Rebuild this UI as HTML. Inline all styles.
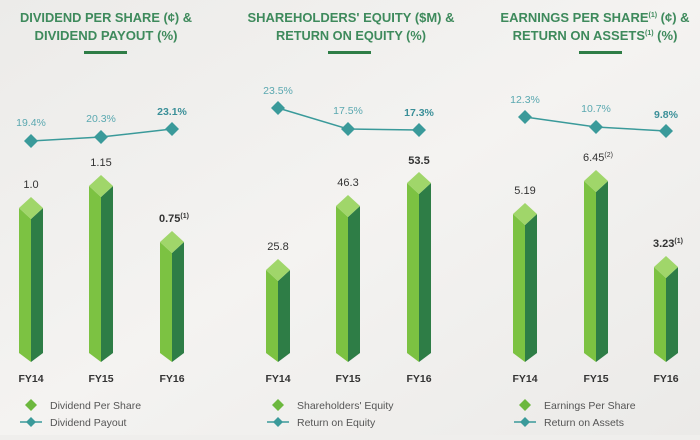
<!DOCTYPE html>
<html><head><meta charset="utf-8"><style>
html,body{margin:0;padding:0;}
body{width:700px;height:435px;overflow:hidden;background:#efeeec;font-family:"Liberation Sans",sans-serif;}
</style></head><body>
<svg width="700" height="435" viewBox="0 0 700 435" xmlns="http://www.w3.org/2000/svg">
<defs>
<linearGradient id="bg" x1="0" y1="0" x2="1" y2="1"><stop offset="0" stop-color="#ecebe9"/><stop offset="0.5" stop-color="#f4f3f1"/><stop offset="1" stop-color="#ebeae8"/></linearGradient>
</defs>
<rect width="700" height="435" fill="url(#bg)"/>
<g font-family="Liberation Sans, sans-serif" font-weight="bold" fill="#3e8a5c" font-size="13" text-anchor="middle">
<text x="106" y="22" textLength="172" lengthAdjust="spacingAndGlyphs">DIVIDEND PER SHARE (¢) &amp;</text>
<text x="106" y="40" textLength="143" lengthAdjust="spacingAndGlyphs">DIVIDEND PAYOUT (%)</text>
<text x="351" y="22" textLength="207" lengthAdjust="spacingAndGlyphs">SHAREHOLDERS' EQUITY ($M) &amp;</text>
<text x="351" y="40" textLength="150" lengthAdjust="spacingAndGlyphs">RETURN ON EQUITY (%)</text>
<text x="595" y="22">EARNINGS PER SHARE<tspan font-size="7" dy="-5">(1)</tspan><tspan dy="5"> (¢) &amp;</tspan></text>
<text x="595" y="40">RETURN ON ASSETS<tspan font-size="7" dy="-5">(1)</tspan><tspan dy="5"> (%)</tspan></text>
</g>
<g fill="#2e7d46"><rect x="84" y="51" width="43" height="3"/><rect x="328" y="51" width="43" height="3"/><rect x="579" y="51" width="43" height="3"/></g>

<g stroke="#3a9a9a" stroke-width="1.5" fill="none">
<polyline points="31,141 101,137 172,129"/>
<polyline points="278,108 348,129 419,130"/>
<polyline points="525,117 596,127 666,131"/>
</g>
<g fill="#3a9a9a">
<path d="M31,134 l7,7 l-7,7 l-7,-7z"/><path d="M101,130 l7,7 l-7,7 l-7,-7z"/><path d="M172,122 l7,7 l-7,7 l-7,-7z"/>
<path d="M278,101 l7,7 l-7,7 l-7,-7z"/><path d="M348,122 l7,7 l-7,7 l-7,-7z"/><path d="M419,123 l7,7 l-7,7 l-7,-7z"/>
<path d="M525,110 l7,7 l-7,7 l-7,-7z"/><path d="M596,120 l7,7 l-7,7 l-7,-7z"/><path d="M666,124 l7,7 l-7,7 l-7,-7z"/>
</g>
<g font-size="10.5" fill="#5aa8b0" text-anchor="middle">
<text x="31" y="126">19.4%</text><text x="101" y="122">20.3%</text><text x="172" y="115" font-weight="bold" fill="#3a8f98">23.1%</text>
<text x="278" y="94">23.5%</text><text x="348" y="114">17.5%</text><text x="419" y="116" font-weight="bold" fill="#3a8f98">17.3%</text>
<text x="525" y="103">12.3%</text><text x="596" y="112">10.7%</text><text x="666" y="118" font-weight="bold" fill="#3a8f98">9.8%</text>
</g>

<g>
<g transform="translate(31,0)"><polygon fill="#7cc242" points="-12,208 0,219 0,362 -12,353"/><polygon fill="#2e7d46" points="0,219 12,208 12,353 0,362"/><polygon fill="#a0d66a" points="0,197 12,208 0,219 -12,208"/></g>
<g transform="translate(101,0)"><polygon fill="#7cc242" points="-12,186 0,197 0,362 -12,353"/><polygon fill="#2e7d46" points="0,197 12,186 12,353 0,362"/><polygon fill="#a0d66a" points="0,175 12,186 0,197 -12,186"/></g>
<g transform="translate(172,0)"><polygon fill="#7cc242" points="-12,242 0,253 0,362 -12,353"/><polygon fill="#2e7d46" points="0,253 12,242 12,353 0,362"/><polygon fill="#a0d66a" points="0,231 12,242 0,253 -12,242"/></g>
<g transform="translate(278,0)"><polygon fill="#7cc242" points="-12,270 0,281 0,362 -12,353"/><polygon fill="#2e7d46" points="0,281 12,270 12,353 0,362"/><polygon fill="#a0d66a" points="0,259 12,270 0,281 -12,270"/></g>
<g transform="translate(348,0)"><polygon fill="#7cc242" points="-12,206 0,217 0,362 -12,353"/><polygon fill="#2e7d46" points="0,217 12,206 12,353 0,362"/><polygon fill="#a0d66a" points="0,195 12,206 0,217 -12,206"/></g>
<g transform="translate(419,0)"><polygon fill="#7cc242" points="-12,183 0,194 0,362 -12,353"/><polygon fill="#2e7d46" points="0,194 12,183 12,353 0,362"/><polygon fill="#a0d66a" points="0,172 12,183 0,194 -12,183"/></g>
<g transform="translate(525,0)"><polygon fill="#7cc242" points="-12,214 0,225 0,362 -12,353"/><polygon fill="#2e7d46" points="0,225 12,214 12,353 0,362"/><polygon fill="#a0d66a" points="0,203 12,214 0,225 -12,214"/></g>
<g transform="translate(596,0)"><polygon fill="#7cc242" points="-12,181 0,192 0,362 -12,353"/><polygon fill="#2e7d46" points="0,192 12,181 12,353 0,362"/><polygon fill="#a0d66a" points="0,170 12,181 0,192 -12,181"/></g>
<g transform="translate(666,0)"><polygon fill="#7cc242" points="-12,267 0,278 0,362 -12,353"/><polygon fill="#2e7d46" points="0,278 12,267 12,353 0,362"/><polygon fill="#a0d66a" points="0,256 12,267 0,278 -12,267"/></g>
</g>

<g font-size="11" fill="#333" text-anchor="middle">
<text x="31" y="188">1.0</text><text x="101" y="166">1.15</text><text x="174" y="222" font-weight="bold">0.75<tspan font-size="7" dy="-4">(1)</tspan></text>
<text x="278" y="250">25.8</text><text x="348" y="186">46.3</text><text x="419" y="164" font-weight="bold">53.5</text>
<text x="525" y="194">5.19</text><text x="598" y="161">6.45<tspan font-size="7" dy="-4">(2)</tspan></text><text x="668" y="247" font-weight="bold">3.23<tspan font-size="7" dy="-4">(1)</tspan></text>
</g>
<g font-size="10.5" font-weight="bold" fill="#333" text-anchor="middle">
<text x="31" y="382">FY14</text><text x="101" y="382">FY15</text><text x="172" y="382">FY16</text>
<text x="278" y="382">FY14</text><text x="348" y="382">FY15</text><text x="419" y="382">FY16</text>
<text x="525" y="382">FY14</text><text x="596" y="382">FY15</text><text x="666" y="382">FY16</text>
</g>

<g font-size="10.5" fill="#555">
<path d="M31,399 l6,6 l-6,6 l-6,-6z" fill="#6cb83e"/><text x="50" y="409">Dividend Per Share</text>
<line x1="20" y1="422" x2="42" y2="422" stroke="#3a9a9a" stroke-width="1.5"/><path d="M31,417 l5,5 l-5,5 l-5,-5z" fill="#3a9a9a"/><text x="50" y="426">Dividend Payout</text>
<path d="M278,399 l6,6 l-6,6 l-6,-6z" fill="#6cb83e"/><text x="297" y="409">Shareholders' Equity</text>
<line x1="267" y1="422" x2="289" y2="422" stroke="#3a9a9a" stroke-width="1.5"/><path d="M278,417 l5,5 l-5,5 l-5,-5z" fill="#3a9a9a"/><text x="297" y="426">Return on Equity</text>
<path d="M525,399 l6,6 l-6,6 l-6,-6z" fill="#6cb83e"/><text x="544" y="409">Earnings Per Share</text>
<line x1="514" y1="422" x2="536" y2="422" stroke="#3a9a9a" stroke-width="1.5"/><path d="M525,417 l5,5 l-5,5 l-5,-5z" fill="#3a9a9a"/><text x="544" y="426">Return on Assets</text>
</g>
</svg>
</body></html>
